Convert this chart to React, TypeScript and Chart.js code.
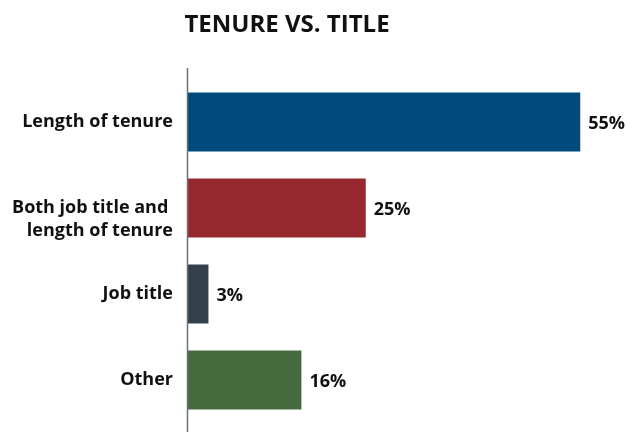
import React, { useEffect, useRef } from "react";
import { Chart, registerables } from "chart.js";

Chart.register(...registerables);

const TITLE = "TENURE VS. TITLE";
const categories: (string | string[])[] = [
  "Length of tenure",
  ["", "Both job title and ", "length of tenure"],
  "Job title",
  "Other",
];
const values = [55, 25, 3, 16];
const valueLabels = ["55%", "25%", "3%", "16%"];
const colors = ["#004a7c", "#98282f", "#333f4b", "#44693c"];

const FONT = "'Open Sans', sans-serif";

const extras = {
  id: "extras",
  afterDraw(chart: any) {
    const { ctx, chartArea } = chart;
    ctx.save();
    // axis line
    ctx.strokeStyle = "#6b717a";
    ctx.lineWidth = 1.5;
    ctx.beginPath();
    ctx.moveTo(chartArea.left + 0.5, chartArea.top - 11);
    ctx.lineTo(chartArea.left + 0.5, chart.height);
    ctx.stroke();
    // title
    ctx.fillStyle = "#111";
    ctx.font = `bold 24px ${FONT}`;
    ctx.textAlign = "center";
    ctx.textBaseline = "middle";
    ctx.fillText(TITLE, chartArea.left + 100, 25);
    // value labels
    const meta = chart.getDatasetMeta(0);
    ctx.font = `bold 18px ${FONT}`;
    ctx.textAlign = "left";
    meta.data.forEach((bar: any, i: number) => {
      ctx.fillText(valueLabels[i], bar.x + 8, bar.y + 2);
    });
    ctx.restore();
  },
};

export default function App() {
  const ref = useRef<HTMLCanvasElement>(null);
  useEffect(() => {
    const chart = new Chart(ref.current!, {
      type: "bar",
      data: {
        labels: categories as any,
        datasets: [
          {
            data: values,
            backgroundColor: colors,
            categoryPercentage: 1,
            barPercentage: 0.686,
          },
        ],
      },
      options: {
        indexAxis: "y",
        animation: false,
        responsive: false,
        layout: { padding: { top: 79, bottom: 9, right: 13, left: 0 } },
        plugins: { legend: { display: false }, tooltip: { enabled: false } },
        scales: {
          x: { min: 0, max: 60, display: false },
          y: {
            grid: { display: false, drawTicks: false },
            border: { display: false },
            afterFit(scale: any) {
              scale.width = 187;
              scale.paddingTop = 0;
              scale.paddingBottom = 0;
            },
            ticks: {
              color: "#111",
              padding: 14,
              font: { family: FONT, weight: "bold", size: 18, lineHeight: 1.25 },
            },
          },
        },
      },
      plugins: [extras],
    });
    return () => chart.destroy();
  }, []);
  return (
    <div style={{ position: "fixed", left: 0, top: 0, width: 629, height: 432, background: "#fff" }}>
      <canvas ref={ref} width={629} height={432} />
    </div>
  );
}
